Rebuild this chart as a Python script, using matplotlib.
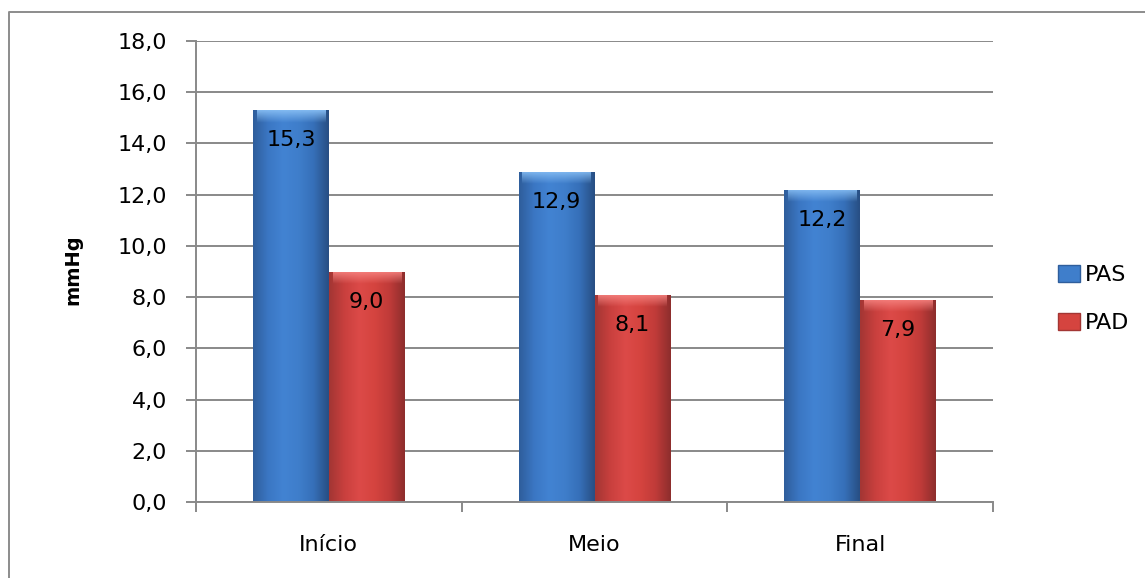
import matplotlib
matplotlib.use("Agg")
import matplotlib.pyplot as plt
import numpy as np
from matplotlib.lines import Line2D
from matplotlib.patches import Rectangle
from matplotlib.colors import to_rgb

categories = ["Início", "Meio", "Final"]
pas = [15.3, 12.9, 12.2]
pad = [9.0, 8.1, 7.9]
series_names = ["PAS", "PAD"]
yticks = np.arange(0, 18.1, 2)

plt.rcParams["font.family"] = ["DejaVu Sans"]
GRID = "#898989"

# horizontal shading across a bar: darker edges, lighter body
BLUE_STOPS = ["#2f5e9c", "#3b77c4", "#4283d2", "#3f7ecb", "#3670b9", "#284f84"]
RED_STOPS = ["#a33634", "#c9403e", "#dc4a48", "#d5443f", "#c03b39", "#8e2e2d"]
BLUE_TOP = "#86bdf3"
RED_TOP = "#f6827f"


def shade_image(stops, n=64):
    pos = np.linspace(0, 1, len(stops))
    cols = np.array([to_rgb(c) for c in stops])
    x = np.linspace(0, 1, n)
    row = np.stack([np.interp(x, pos, cols[:, k]) for k in range(3)], axis=1)
    return row[np.newaxis, :, :]


def top_glow(color, n=32):
    img = np.zeros((n, 1, 4))
    img[:, 0, :3] = to_rgb(color)
    img[:, 0, 3] = np.linspace(0.95, 0.0, n)
    return img


def shade_bars(ax, bars, stops, top_color):
    body = shade_image(stops)
    glow = top_glow(top_color)
    for b in bars:
        x0, w, h = b.get_x(), b.get_width(), b.get_height()
        b.set_facecolor("none")
        b.set_edgecolor("none")
        im = ax.imshow(body, extent=(x0, x0 + w, 0, h), aspect="auto",
                       interpolation="bilinear", zorder=2)
        im.set_clip_path(b)
        g = ax.imshow(glow, extent=(x0 + w * 0.05, x0 + w * 0.95, h - 0.5, h),
                      aspect="auto", interpolation="bilinear", zorder=2.1)
        g.set_clip_path(b)


fig = plt.figure(figsize=(11.45, 5.78), dpi=100)
ax = fig.add_axes([196 / 1145, 1 - 502 / 578, 797 / 1145, 461 / 578])

x = np.arange(len(categories))
w = 1 / 3.5
bars_pas = ax.bar(x - w / 2, pas, w, zorder=2)
bars_pad = ax.bar(x + w / 2, pad, w, zorder=2)
shade_bars(ax, bars_pas, BLUE_STOPS, BLUE_TOP)
shade_bars(ax, bars_pad, RED_STOPS, RED_TOP)

for bars, vals in ((bars_pas, pas), (bars_pad, pad)):
    for b, v in zip(bars, vals):
        ax.annotate(f"{v:.1f}".replace(".", ","),
                    (b.get_x() + b.get_width() / 2, v),
                    xytext=(0, -30), textcoords="offset pixels",
                    ha="center", va="center", fontsize=16, color="black", zorder=3)

ax.set_xlim(-0.5, len(categories) - 0.5)
ax.set_ylim(0, 18)
ax.set_yticks(yticks)
ax.set_yticklabels([f"{t:.1f}".replace(".", ",") for t in yticks], fontsize=16)
ax.yaxis.grid(True, color=GRID, linewidth=1.4, zorder=1)
ax.set_axisbelow(True)

ax.set_xticks(x)
ax.set_xticklabels(categories, fontsize=16)
ax.set_xticks(np.arange(len(categories) + 1) - 0.5, minor=True)
ax.tick_params(axis="x", which="major", length=0, pad=24)
ax.tick_params(axis="x", which="minor", length=7, width=1.4, color=GRID)
ax.tick_params(axis="y", length=7, width=1.4, color=GRID, pad=14)

for side in ("top", "right"):
    ax.spines[side].set_visible(False)
for side in ("left", "bottom"):
    ax.spines[side].set_color(GRID)
    ax.spines[side].set_linewidth(1.4)

fig.text(73 / 1145, 1 - 270 / 578, "mmHg", rotation=90, fontsize=14,
         fontweight="bold", ha="center", va="center")

handles = [Rectangle((0, 0), 1, 1, facecolor="#3f7ecb", edgecolor="#2f5e9c"),
           Rectangle((0, 0), 1, 1, facecolor="#d5443f", edgecolor="#a33634")]
fig.legend(handles, series_names, loc="center left",
           bbox_to_anchor=(1038 / 1145, 1 - 299 / 578), frameon=False,
           fontsize=16, handlelength=1.0, handleheight=0.8, handletextpad=0.2,
           labelspacing=1.25)

# outer chart border
fig.add_artist(Line2D([9 / 1145, 9 / 1145, 1.0], [0.0, 1 - 12 / 578, 1 - 12 / 578],
                      transform=fig.transFigure, color="#8c8c8c", linewidth=1.4))

fig.savefig("out.png", dpi=100)
